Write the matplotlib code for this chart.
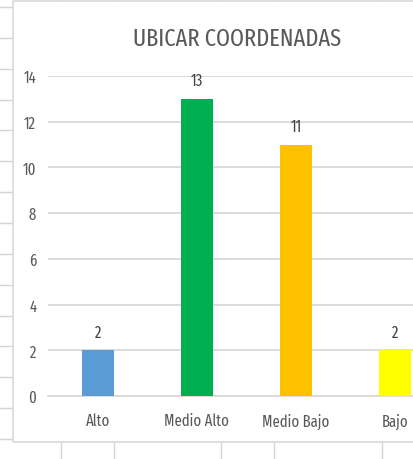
import matplotlib
matplotlib.use("Agg")
import matplotlib.pyplot as plt
from matplotlib.patches import Rectangle
from matplotlib.lines import Line2D

categories = ["Alto", "Medio Alto", "Medio Bajo", "Bajo"]
values = [2, 13, 11, 2]
colors = ["#5B9BD5", "#00B050", "#FFC000", "#FFFF00"]
yticks = [0, 2, 4, 6, 8, 10, 12, 14]
title = "UBICAR COORDENADAS"

plt.rcParams['font.family'] = ['Fira Sans Extra Condensed', 'DejaVu Sans']

W, H = 414, 460
fig = plt.figure(figsize=(W / 100, H / 100), dpi=100)
fig.patch.set_facecolor("white")

# spreadsheet background grid
grid_c = "#D4D4D4"
for k in range(16):
    y = 8 + 30.85 * k
    fig.add_artist(Line2D([0, 1], [1 - y / H, 1 - y / H], transform=fig.transFigure,
                          color=grid_c, lw=1.0, zorder=-3))
for x in [61, 114, 221, 274, 382]:
    fig.add_artist(Line2D([x / W, x / W], [0, 1], transform=fig.transFigure,
                          color=grid_c, lw=1.0, zorder=-3))

# chart area
fig.add_artist(Rectangle((13 / W, 1 - 443 / H), 1.2, (443 - 2) / H,
                         transform=fig.transFigure, facecolor="white",
                         edgecolor="#D9D9D9", lw=1.2, zorder=-1))

ax = fig.add_axes([48 / W, 63 / H, 397 / W, 320 / H])
ax.set_facecolor("none")
x = range(len(categories))
bars = ax.bar(x, values, width=0.32, color=colors, zorder=3)
ax.set_xlim(-0.5, len(categories) - 0.5)
ax.set_ylim(0, 14)
ax.set_yticks(yticks)
ax.set_xticks(list(x))
ax.set_xticklabels(categories)
ax.grid(axis="y", color="#D9D9D9", lw=1.3, zorder=0)
for s in ["top", "right", "left"]:
    ax.spines[s].set_visible(False)
ax.spines["bottom"].set_color("#D9D9D9")
ax.spines["bottom"].set_linewidth(1.3)
ax.tick_params(axis="both", length=0, colors="#595959", labelsize=11.5)
ax.tick_params(axis="y", pad=8.5)
ax.tick_params(axis="x", pad=12)

for b, v in zip(bars, values):
    ax.annotate(str(v), (b.get_x() + b.get_width() / 2, v), xytext=(0, 13),
                textcoords="offset points", ha="center", va="center",
                fontsize=11.5, color="#404040")

fig.text(237 / W, 1 - 39 / H, title, ha="center", va="center",
         fontsize=17.5, color="#595959")

fig.savefig("out.png", dpi=100)
